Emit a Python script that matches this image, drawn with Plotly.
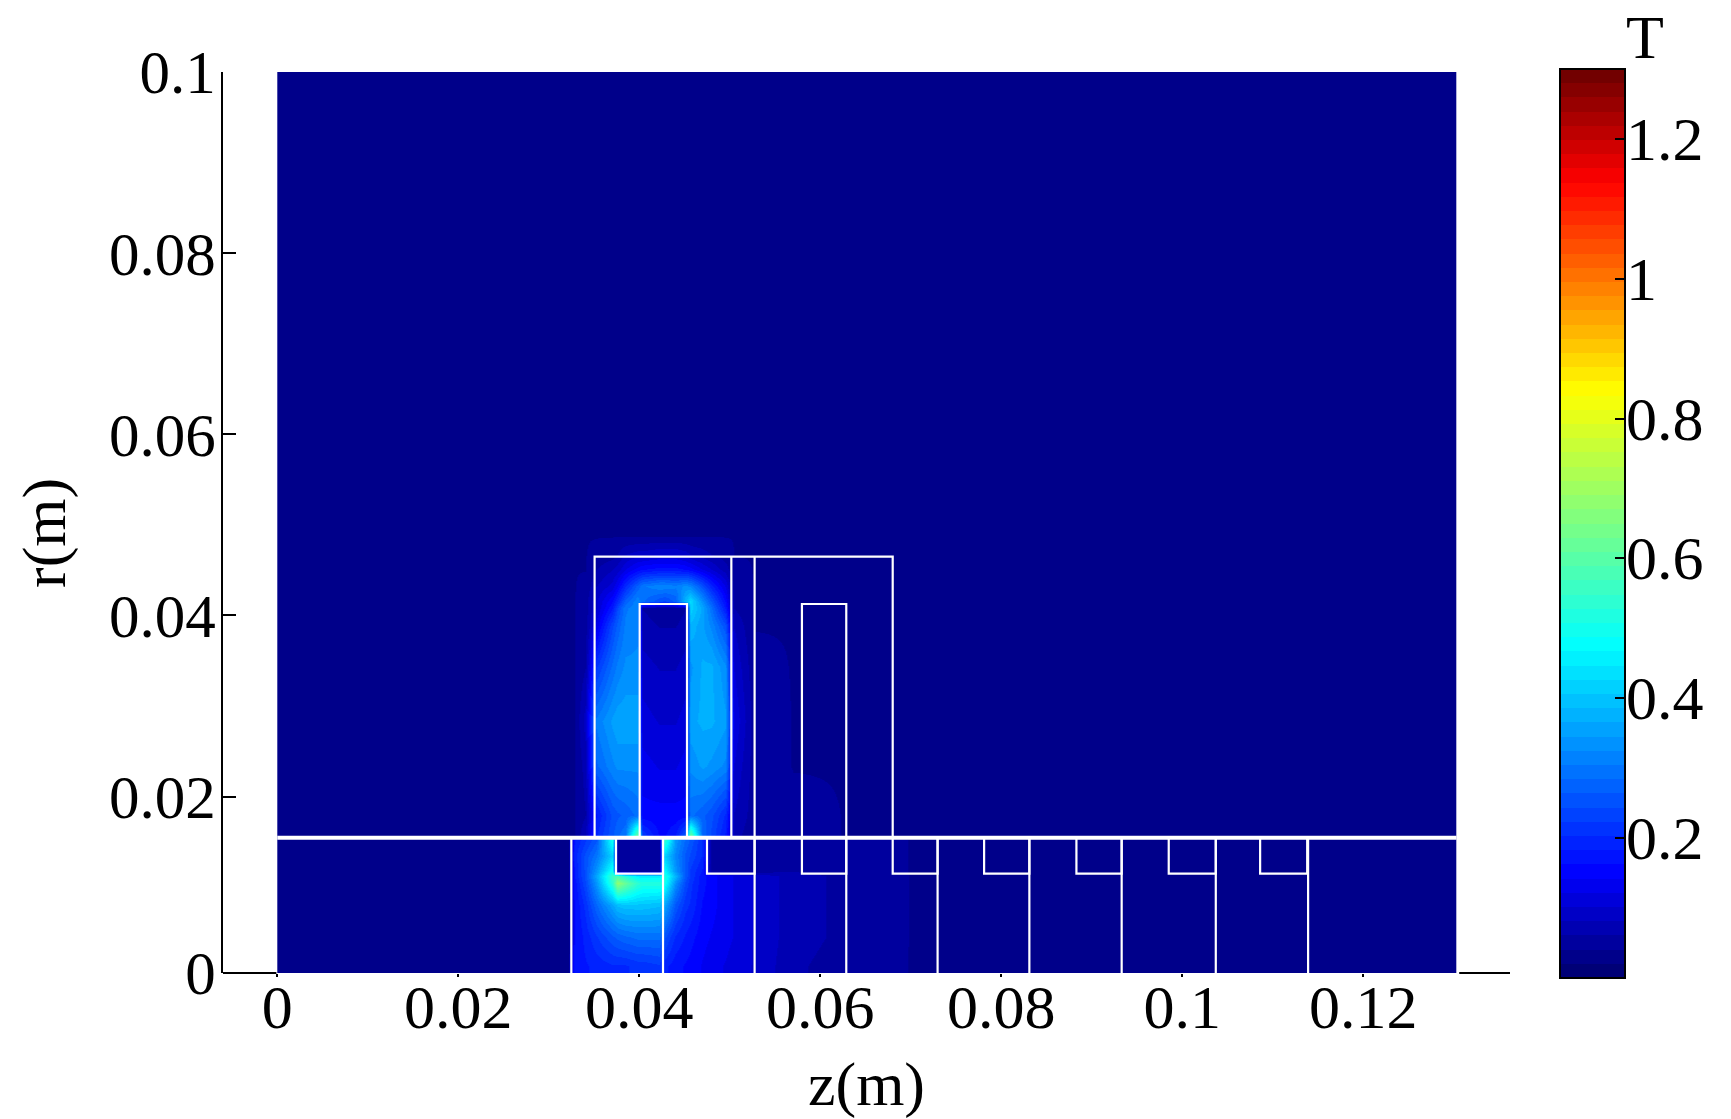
import plotly.graph_objects as go

# ── Colors / fonts ─────────────────────────────────────────────────────────────
FONT = "Liberation Serif"
FONT_SIZE = 62
BLACK = "#000000"
WHITE = "#FFFFFF"

# colormap anchors (position on bar, r, g, b), banded like the original legend
CMAP_POS = [0.0, 0.115, 0.365, 0.645, 0.875, 1.0]
CMAP_RGB = [(0, 0, 108), (0, 0, 255), (0, 255, 255), (255, 255, 0), (255, 0, 0), (105, 0, 0)]
N_BANDS = 64

Z_MIN = 0.0
Z_MAX = 1.3
CB_TICKS = [0.2, 0.4, 0.6, 0.8, 1.0, 1.2]
CB_LABELS = ["0.2", "0.4", "0.6", "0.8", "1", "1.2"]

X_TICKS = [0, 0.02, 0.04, 0.06, 0.08, 0.1, 0.12]
X_LABELS = ["0", "0.02", "0.04", "0.06", "0.08", "0.1", "0.12"]
# the bottom tick of the original sits a little above a true zero
R_BOTTOM = 0.00053
Y_TICKS = [R_BOTTOM, 0.02, 0.04, 0.06, 0.08, 0.1]
Y_LABELS = ["0", "0.02", "0.04", "0.06", "0.08", "0.1"]

# ── Field |B| (T) ──────────────────────────────────────────────────────────────
Z_NODES = [
    0.0003, 0.0009, 0.0322, 0.0328, 0.0340, 0.0352, 0.0370, 0.0376, 0.0385, 0.0398, 0.0403, 0.0422, 0.0428,
    0.0440, 0.0451, 0.0456, 0.0470, 0.0480, 0.0495, 0.0505, 0.0527, 0.0570, 0.0630, 0.0700, 0.1300, 0.1302,
]
R_NODES = [
    0.0008, 0.0013, 0.0045, 0.0080, 0.0105, 0.0112, 0.0118, 0.0135, 0.0152, 0.0158, 0.0180, 0.0234,
    0.0284, 0.0343, 0.0388, 0.0408, 0.0416, 0.0433, 0.0451, 0.0468, 0.0488, 0.0507, 0.0997, 0.0999,
]
BT = [
    [.04, .04, .04, .17, .18, .19, .20, .20, .20, .21, .21, .22, .19, .17, .16, .155, .14, .13, .12, .11, .10, .065, .05, .04, .04, .04],
    [.04, .04, .04, .17, .18, .19, .20, .20, .20, .21, .21, .22, .19, .17, .16, .155, .14, .13, .12, .11, .10, .065, .05, .04, .04, .04],
    [.04, .04, .04, .16, .19, .22, .26, .27, .28, .29, .29, .29, .25, .20, .18, .17, .15, .14, .13, .12, .10, .07, .055, .04, .04, .04],
    [.04, .04, .04, .16, .21, .28, .36, .39, .40, .40, .40, .39, .36, .26, .21, .20, .16, .15, .13, .12, .10, .07, .055, .04, .04, .04],
    [.04, .04, .04, .17, .24, .34, .54, .68, .62, .54, .52, .52, .50, .33, .24, .21, .17, .15, .13, .12, .10, .07, .055, .04, .04, .04],
    [.04, .04, .04, .18, .25, .36, .56, .58, .52, .46, .45, .45, .52, .38, .26, .22, .17, .15, .13, .12, .10, .07, .055, .04, .04, .04],
    [.04, .04, .04, .18, .25, .34, .50, .05, .05, .05, .05, .05, .48, .34, .26, .22, .18, .05, .05, .05, .05, .06, .05, .04, .04, .04],
    [.04, .04, .04, .19, .25, .30, .42, .05, .05, .05, .05, .05, .42, .32, .26, .24, .20, .05, .05, .05, .05, .06, .05, .04, .04, .04],
    [.04, .04, .04, .18, .22, .26, .50, .06, .06, .06, .06, .06, .55, .34, .28, .26, .20, .05, .05, .05, .05, .05, .05, .04, .04, .04],
    [.04, .04, .04, .04, .08, .20, .26, .28, .30, .62, .22, .16, .16, .18, .26, .62, .28, .24, .18, .07, .045, .045, .04, .04, .04, .04],
    [.04, .04, .04, .04, .06, .18, .25, .26, .27, .29, .15, .15, .15, .15, .15, .29, .27, .25, .20, .08, .05, .045, .04, .04, .04, .04],
    [.04, .04, .04, .04, .07, .28, .32, .33, .33, .33, .13, .12, .12, .12, .13, .33, .35, .34, .32, .10, .05, .04, .04, .04, .04, .04],
    [.04, .04, .04, .04, .09, .31, .35, .36, .36, .36, .11, .10, .10, .10, .11, .36, .37, .37, .35, .12, .05, .04, .04, .04, .04, .04],
    [.04, .04, .04, .04, .06, .22, .29, .31, .33, .33, .09, .08, .08, .08, .09, .34, .37, .37, .33, .10, .045, .04, .04, .04, .04, .04],
    [.04, .04, .04, .04, .05, .13, .24, .27, .31, .32, .07, .06, .06, .06, .07, .38, .35, .32, .25, .08, .04, .04, .04, .04, .04, .04],
    [.04, .04, .04, .04, .05, .10, .18, .24, .30, .32, .06, .05, .05, .05, .06, .42, .36, .29, .18, .06, .04, .04, .04, .04, .04, .04],
    [.04, .04, .04, .04, .05, .10, .16, .20, .27, .32, .29, .25, .24, .27, .38, .43, .33, .26, .16, .06, .04, .04, .04, .04, .04, .04],
    [.04, .04, .04, .04, .045, .08, .11, .14, .20, .27, .30, .32, .32, .31, .33, .32, .25, .19, .12, .05, .04, .04, .04, .04, .04, .04],
    [.04, .04, .04, .04, .04, .06, .08, .09, .12, .15, .16, .17, .17, .17, .16, .15, .12, .10, .07, .045, .04, .04, .04, .04, .04, .04],
    [.04, .04, .04, .04, .04, .045, .05, .06, .08, .09, .09, .10, .10, .10, .09, .08, .07, .06, .05, .04, .04, .04, .04, .04, .04, .04],
    [.04, .04, .04, .04, .04, .04, .04, .04, .04, .04, .04, .04, .04, .04, .04, .04, .04, .04, .04, .04, .04, .04, .04, .04, .04, .04],
    [.04, .04, .04, .04, .04, .04, .04, .04, .04, .04, .04, .04, .04, .04, .04, .04, .04, .04, .04, .04, .04, .04, .04, .04, .04, .04],
    [.04, .04, .04, .04, .04, .04, .04, .04, .04, .04, .04, .04, .04, .04, .04, .04, .04, .04, .04, .04, .04, .04, .04, .04, .04, .04],
    [.04, .04, .04, .04, .04, .04, .04, .04, .04, .04, .04, .04, .04, .04, .04, .04, .04, .04, .04, .04, .04, .04, .04, .04, .04, .04],
]

# ── Geometry outlines (m) ──────────────────────────────────────────────────────
Z_END = 0.1303
R_GAP = 0.01547
R_CORE = 0.04649
R_SLOT = 0.04127
R_NOTCH = 0.0115
CORE_LEFT = [0.03506, 0.0680]
CORE_VERTICALS = [0.05017, 0.05274]
SLOTS = [(0.04004, 0.04527), (0.05797, 0.06287)]
ROTOR_VERTICALS = [0.03249, 0.04262, 0.05274, 0.06287, 0.07296, 0.0831, 0.0933, 0.1037, 0.1139]
NOTCHES = [
    (0.03743, 0.04262), (0.04748, 0.05274), (0.05797, 0.06287), (0.0680, 0.07296),
    (0.0781, 0.0831), (0.0883, 0.0933), (0.0985, 0.1037), (0.1086, 0.1138),
]

# ── Page layout (px) ───────────────────────────────────────────────────────────
WIDTH, HEIGHT = 1731, 1119
PLOT_L, PLOT_R, PLOT_T, PLOT_B = 223, 1510, 72, 973
CB_L, CB_R, CB_T, CB_B = 1560, 1625, 69, 978


def paper_x(px):
    return (px - PLOT_L) / (PLOT_R - PLOT_L)


def paper_y(px):
    return (PLOT_B - px) / (PLOT_B - PLOT_T)


def cb_y(v):
    return paper_y(CB_B - (v - Z_MIN) / (Z_MAX - Z_MIN) * (CB_B - CB_T))


def banded_colorscale():
    def color_at(t):
        for i in range(len(CMAP_POS) - 1):
            if t <= CMAP_POS[i + 1]:
                f = (t - CMAP_POS[i]) / (CMAP_POS[i + 1] - CMAP_POS[i])
                c = [a + (b - a) * f for a, b in zip(CMAP_RGB[i], CMAP_RGB[i + 1])]
                return f"rgb({c[0]:.0f},{c[1]:.0f},{c[2]:.0f})"
        return f"rgb{CMAP_RGB[-1]}"

    scale = []
    for i in range(N_BANDS):
        col = color_at((i + 0.5) / N_BANDS)
        scale += [[i / N_BANDS, col], [(i + 1) / N_BANDS, col]]
    return scale


def outline_paths():
    z, r = [], []
    z += [CORE_LEFT[0], CORE_LEFT[0], CORE_LEFT[1], CORE_LEFT[1], None]
    r += [R_GAP, R_CORE, R_CORE, R_GAP, None]
    for v in CORE_VERTICALS:
        z += [v, v, None]
        r += [R_GAP, R_CORE, None]
    for a, b in SLOTS:
        z += [a, a, b, b, None]
        r += [R_GAP, R_SLOT, R_SLOT, R_GAP, None]
    for v in ROTOR_VERTICALS:
        z += [v, v, None]
        r += [R_BOTTOM, R_GAP, None]
    for a, b in NOTCHES:
        z += [a, a, b, b, None]
        r += [R_GAP, R_NOTCH, R_NOTCH, R_GAP, None]
    return z, r


fig = go.Figure()
fig.add_trace(
    go.Heatmap(
        x=Z_NODES,
        y=R_NODES,
        z=BT,
        zmin=Z_MIN,
        zmax=Z_MAX,
        zsmooth="best",
        colorscale=banded_colorscale(),
        colorbar=dict(
            x=paper_x(CB_L),
            xanchor="left",
            xpad=0,
            y=paper_y(CB_B),
            yanchor="bottom",
            ypad=0,
            len=CB_B - CB_T,
            lenmode="pixels",
            thickness=CB_R - CB_L,
            thicknessmode="pixels",
            outlinecolor=BLACK,
            outlinewidth=2,
            tickvals=CB_TICKS,
            ticks="inside",
            ticklen=11,
            tickwidth=2,
            tickcolor=BLACK,
            showticklabels=False,
        ),
        hovertemplate="z %{x}<br>r %{y}<br>%{z} T<extra></extra>",
    )
)

outline_z, outline_r = outline_paths()
fig.add_trace(
    go.Scatter(
        x=outline_z,
        y=outline_r,
        mode="lines",
        line=dict(color=WHITE, width=2.2),
        hoverinfo="skip",
        showlegend=False,
    )
)
fig.add_trace(
    go.Scatter(
        x=[0, Z_END],
        y=[R_GAP, R_GAP],
        mode="lines",
        line=dict(color=WHITE, width=4),
        hoverinfo="skip",
        showlegend=False,
    )
)

x_scale = 9050
x_start = (PLOT_L - 277.3) / x_scale
x_stop = (PLOT_R - 277.3) / x_scale

# bottom axis is only visible on either side of the field
shapes = [
    dict(type="line", xref="x", yref="paper", x0=x0, x1=x1, y0=0, y1=0, line=dict(color=BLACK, width=2))
    for x0, x1 in [(x_start, -0.0001), (0.1306, x_stop)]
]
# colorbar ticks on the left edge too
for v in CB_TICKS:
    shapes.append(
        dict(
            type="line", xref="paper", yref="paper",
            x0=paper_x(CB_L), x1=paper_x(CB_L + 7), y0=cb_y(v), y1=cb_y(v),
            line=dict(color=BLACK, width=2),
        )
    )

text_font = dict(family=FONT, size=FONT_SIZE, color=BLACK)
annotations = [
    dict(
        text="r(m)", textangle=-90, xref="paper", yref="paper", x=paper_x(44), y=paper_y(533),
        xanchor="center", yanchor="middle", showarrow=False, font=text_font,
    ),
    dict(
        text="T", xref="paper", yref="paper", x=paper_x(1645), y=paper_y(37),
        xanchor="center", yanchor="middle", showarrow=False, font=text_font,
    ),
]
# colorbar labels sit tighter against the bar than the built-in ones can
for v, label in zip(CB_TICKS, CB_LABELS):
    annotations.append(
        dict(
            text=label, xref="paper", yref="paper", x=paper_x(1626), y=cb_y(v),
            xanchor="left", yanchor="middle", showarrow=False, font=text_font, borderpad=0, borderwidth=0,
        )
    )

fig.update_layout(
    width=WIDTH,
    height=HEIGHT,
    margin=dict(l=PLOT_L, r=WIDTH - PLOT_R, t=PLOT_T, b=HEIGHT - PLOT_B, autoexpand=False),
    paper_bgcolor=WHITE,
    plot_bgcolor=WHITE,
    font=text_font,
    showlegend=False,
    shapes=shapes,
    annotations=annotations,
    xaxis=dict(
        range=[x_start, x_stop],
        tickvals=X_TICKS,
        ticktext=X_LABELS,
        ticks="outside",
        ticklen=3,
        tickwidth=2,
        tickcolor=BLACK,
        showline=False,
        showgrid=False,
        zeroline=False,
        tickfont=text_font,
        ticklabelstandoff=-23,
        title=dict(text="z(m)", font=text_font, standoff=23),
    ),
    yaxis=dict(
        range=[R_BOTTOM, 0.1],
        tickvals=Y_TICKS,
        ticktext=Y_LABELS,
        ticks="inside",
        ticklen=13,
        tickwidth=2,
        tickcolor=BLACK,
        showline=True,
        linecolor=BLACK,
        linewidth=2,
        showgrid=False,
        zeroline=False,
        tickfont=dict(family=FONT, size=61, color=BLACK),
        ticklabelstandoff=-7,
    ),
)

fig.write_html(
    "out.html",
    config={"displayModeBar": False},
    post_script="document.body.style.margin='0';",
)
